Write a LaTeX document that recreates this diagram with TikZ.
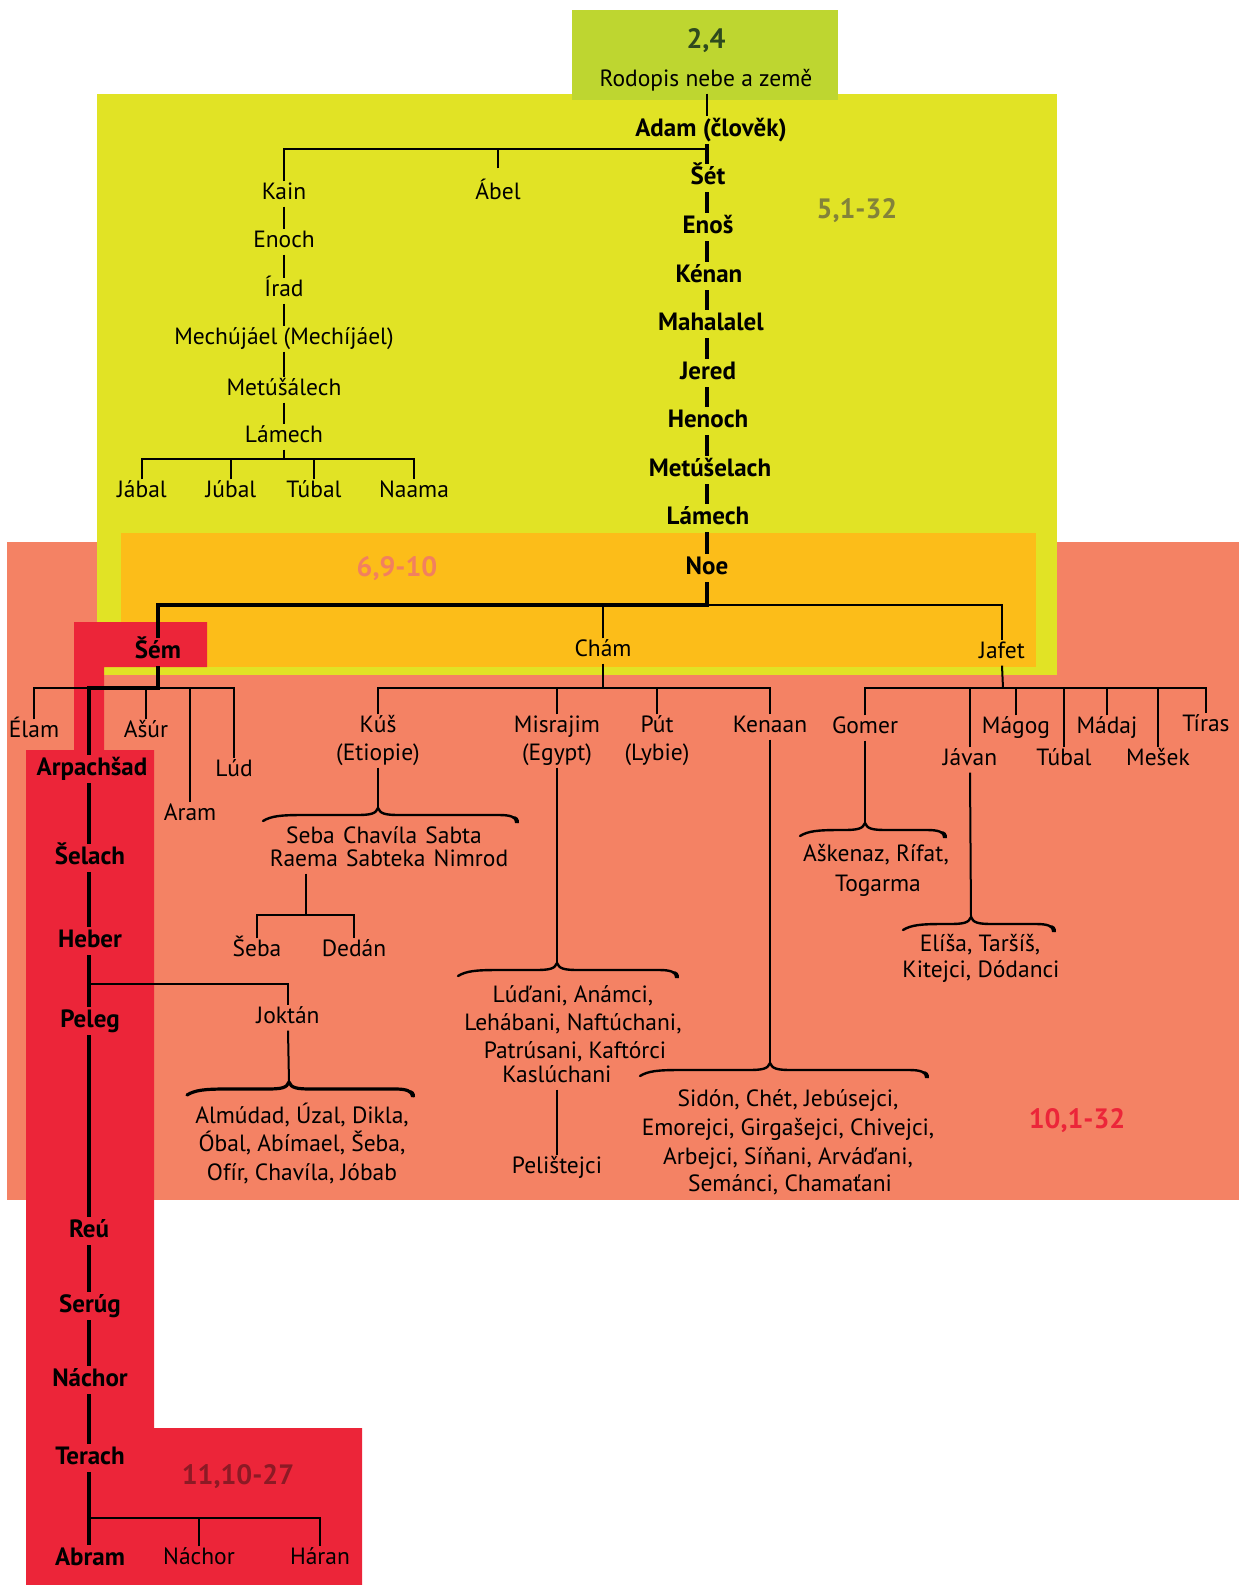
\documentclass[tikz,border=0pt]{standalone}
\usepackage{fontspec}
\setmainfont{PT Sans}
\definecolor{topgreen}{HTML}{BED630}
\definecolor{lime}{HTML}{E1E325}
\definecolor{amber}{HTML}{FCBD19}
\definecolor{salmon}{HTML}{F48264}
\definecolor{crimson}{HTML}{EC2539}
\definecolor{darkgreen}{HTML}{2E4A1E}
\definecolor{olive}{HTML}{83823A}
\definecolor{peach}{HTML}{F2805F}
\definecolor{redtext}{HTML}{EC2539}
\definecolor{wine}{HTML}{8C1A25}
% calligraphic curly brace: left end, tip, right end, level of the flat part, stroke width
\newcommand\calbrace[5]{%
  \draw[line width=#5, line cap=round, line join=round]
    (#1,#4+6) .. controls (#1+8,#4+1) and (#1+18,#4) .. (#1+40,#4)
    -- (#2-22,#4) .. controls (#2-8,#4) and (#2-2,#4-1) .. (#2,#4-7)
    .. controls (#2+2,#4-1) and (#2+8,#4) .. (#2+22,#4)
    -- (#3-18,#4) .. controls (#3-6,#4) and (#3-2,#4+2) .. (#3,#4+7);
  \fill (#3-5,#4+1) .. controls (#3+1,#4+1) and (#3+2,#4+4) .. (#3+2,#4+8)
    -- (#3-2,#4+8) .. controls (#3-2,#4+5) and (#3-3,#4+3) .. cycle;
}
\begin{document}
\begin{tikzpicture}[x=1pt,y=-1pt,
  nm/.style={font=\fontsize{23.5}{27}\selectfont, text height=16pt, text depth=5pt, inner xsep=0pt, inner ysep=2pt, yshift=-3pt},
  bnm/.style={nm, font=\fontsize{25}{29}\selectfont\bfseries, text height=18pt, inner ysep=2.5pt},
  verse/.style={font=\fontsize{28}{32}\selectfont\bfseries, inner sep=0pt},
  twig/.style={line width=2pt},
  bough/.style={line width=2.8pt},
  trunk/.style={line width=4pt},
]
\useasboundingbox (0,0) rectangle (1239,1585);

% coloured sections
\fill[salmon] (7,542) rectangle (1239,1200);
\fill[lime] (97,94) rectangle (1057,675);
\fill[amber] (121,533) rectangle (1036,667);
\fill[topgreen] (572,10) rectangle (838,100);
\fill[crimson] (74,622) -- (207,622) -- (207,667) -- (104,667) -- (104,750)
  -- (154,750) -- (154,1428) -- (362,1428) -- (362,1585) -- (26,1585)
  -- (26,750) -- (74,750) -- cycle;

% chapter references
\node[verse, text=darkgreen] (v24) at (706,41) {2,4};
\node[verse, text=olive] (v5) at (857,211) {5,1-32};
\node[verse, text=peach] (v6) at (397,569) {6,9-10};
\node[verse, text=redtext] (v10) at (1077,1121) {10,1-32};
\node[verse, text=wine] (v11) at (238,1477) {11,10-27};

\node[nm] (rodopis) at (706,78) {Rodopis nebe a země};

% line of Seth
\node[bnm] (adam) at (711,127) {Adam (člověk)};
\node[bnm] (set) at (708,175) {Šét};
\node[bnm] (enos) at (708,224) {Enoš};
\node[bnm] (kenan) at (709,273) {Kénan};
\node[bnm] (mahal) at (711,321) {Mahalalel};
\node[bnm] (jered) at (708,370) {Jered};
\node[bnm] (henoch) at (708,418) {Henoch};
\node[bnm] (metus) at (710,467) {Metúšelach};
\node[bnm] (lamech) at (708,515) {Lámech};
\node[bnm] (noe) at (707,565) {Noe};

% line of Cain
\node[nm] (kain) at (284,191) {Kain};
\node[nm] (abel) at (498,191) {Ábel};
\node[nm] (enoch) at (284,239) {Enoch};
\node[nm] (irad) at (284,288) {Írad};
\node[nm] (mechu) at (284,336) {Mechújáel (Mechíjáel)};
\node[nm] (metusa) at (284,387) {Metúšálech};
\node[nm] (lamk) at (284,434) {Lámech};
\node[nm] (jabal) at (142,489) {Jábal};
\node[nm] (jubal) at (231,489) {Júbal};
\node[nm] (tubal) at (314,489) {Túbal};
\node[nm] (naama) at (414,489) {Naama};

% sons of Noah
\node[bnm] (sem) at (158,649) {Šém};
\node[nm] (cham) at (603,648) {Chám};
\node[nm] (jafet) at (1002,650) {Jafet};

% sons of Shem
\node[nm] (elam) at (34,729) {Élam};
\node[nm] (asur) at (146,729) {Ašúr};
\node[nm] (aram) at (190,812) {Aram};
\node[nm] (lud) at (234,768) {Lúd};
\node[bnm] (arp) at (92,766) {Arpachšad};
\node[bnm] (selach) at (90,855) {Šelach};
\node[bnm] (heber) at (90,938) {Heber};
\node[bnm] (peleg) at (90,1018) {Peleg};
\node[nm] (joktan) at (288,1015) {Joktán};
\node[bnm] (reu) at (89,1228) {Reú};
\node[bnm] (serug) at (90,1303) {Serúg};
\node[bnm] (nachor) at (90,1377) {Náchor};
\node[bnm] (terach) at (90,1455) {Terach};
\node[bnm] (abram) at (90,1556) {Abram};
\node[nm] (nachorB) at (199,1556) {Náchor};
\node[nm] (haran) at (320,1556) {Háran};
\node[nm] (jok1) at (302,1115) {Almúdad, Úzal, Dikla,};
\node[nm] (jok2) at (302,1143) {Óbal, Abímael, Šeba,};
\node[nm] (jok3) at (302,1172) {Ofír, Chavíla, Jóbab};

% sons of Ham
\node[nm] (kus) at (378,724) {Kúš};
\node[nm] (kusB) at (378,752) {(Etiopie)};
\node[nm] (misr) at (557,724) {Misrajim};
\node[nm] (misrB) at (557,752) {(Egypt)};
\node[nm] (put) at (657,724) {Pút};
\node[nm] (putB) at (657,752) {(Lybie)};
\node[nm] (kenaan) at (770,724) {Kenaan};
\node[nm] (kus1) at (384,835) {Seba\hspace{0.35em}Chavíla\hspace{0.35em}Sabta};
\node[nm] (kus2) at (389,858) {Raema\hspace{0.35em}Sabteka\hspace{0.35em}Nimrod};
\node[nm] (seba) at (257,948) {Šeba};
\node[nm] (dedan) at (354,948) {Dedán};
\node[nm] (mis1) at (573,994) {Lúďani, Anámci,};
\node[nm] (mis2) at (573,1022) {Lehábani, Naftúchani,};
\node[nm] (mis3) at (575,1050) {Patrúsani, Kaftórci};
\node[nm] (mis4) at (557,1074) {Kaslúchani};
\node[nm] (pelis) at (557,1165) {Pelištejci};
\node[nm] (ken1) at (788,1098) {Sidón, Chét, Jebúsejci,};
\node[nm] (ken2) at (788,1127) {Emorejci, Girgašejci, Chivejci,};
\node[nm] (ken3) at (788,1156) {Arbejci, Síňani, Arváďani,};
\node[nm] (ken4) at (790,1183) {Semánci, Chamaťani};

% sons of Japheth
\node[nm] (gomer) at (865,725) {Gomer};
\node[nm] (magog) at (1016,725) {Mágog};
\node[nm] (madaj) at (1107,725) {Mádaj};
\node[nm] (tiras) at (1206,723) {Tíras};
\node[nm] (javan) at (970,757) {Jávan};
\node[nm] (tubalJ) at (1064,757) {Túbal};
\node[nm] (mesek) at (1158,757) {Mešek};
\node[nm] (gom1) at (876,853) {Aškenaz, Rífat,};
\node[nm] (gom2) at (878,883) {Togarma};
\node[nm] (jav1) at (980,943) {Elíša, Taršíš,};
\node[nm] (jav2) at (981,969) {Kitejci, Dódanci};

% junction points
\coordinate (sx) at (707,0);
\coordinate (adambar) at (707,149);
\coordinate (lbar) at (284,459);
\coordinate (nbar) at (707,605);
\coordinate (sbar) at (158,688);
\coordinate (lx) at (89,688);
\coordinate (cbar) at (603,688);
\coordinate (jbar) at (1003,688);
\coordinate (hbar) at (89,984);
\coordinate (sdbar) at (306,915);
\coordinate (tbar) at (89,1518);
\coordinate (kusTip) at (378,808);
\coordinate (misTip) at (557,963);
\coordinate (kenTip) at (770,1063);
\coordinate (jokTip) at (289,1082);
\coordinate (gomTip) at (865,823);
\coordinate (javTip) at (971,917);

% Adam to Noah
\draw[twig] (rodopis.south -| sx) -- (adam.north -| sx);
\draw[trunk] (adam.south -| sx) -- (set.north -| sx);
\draw[trunk] (set.south -| sx) -- (enos.north -| sx);
\draw[trunk] (enos.south -| sx) -- (kenan.north -| sx);
\draw[trunk] (kenan.south -| sx) -- (mahal.north -| sx);
\draw[trunk] (mahal.south -| sx) -- (jered.north -| sx);
\draw[trunk] (jered.south -| sx) -- (henoch.north -| sx);
\draw[trunk] (henoch.south -| sx) -- (metus.north -| sx);
\draw[trunk] (metus.south -| sx) -- (lamech.north -| sx);
\draw[trunk] (lamech.south -| sx) -- (noe.north -| sx);
\draw[bough] (kain.north) |- (adambar);
\draw[twig] ([yshift=13pt]abel.north) -- (abel.north |- adambar);

% Cain's line
\draw[twig] (kain.south) -- (enoch.north);
\draw[twig] (enoch.south) -- (irad.north);
\draw[twig] (irad.south) -- (mechu.north);
\draw[twig] (mechu.south) -- (metusa.north);
\draw[twig] (metusa.south) -- (lamk.north);
\draw[twig] (lamk.south) -- (lbar);
\draw[twig] (jabal.north) |- (naama.north |- lbar) -- (naama.north);
\draw[twig] (jubal.north) -- (jubal.north |- lbar);
\draw[twig] (tubal.north) -- (tubal.north |- lbar);

% Noah's sons
\draw[trunk] (noe.south -| sx) -- (nbar) -| (sem.north);
\draw[twig] (nbar) -| (jafet.north);
\draw[twig] (cham.north) -- (cham.north |- nbar);

% Shem
\draw[trunk] (sem.south) -- (sbar) -- (lx) -- (arp.north -| lx);
\draw[twig] (elam.north) |- (lud.north |- sbar) -- (lud.north);
\draw[twig] (asur.north) -- (asur.north |- sbar);
\draw[twig] (aram.north) -- (aram.north |- sbar);
\draw[trunk] (arp.south -| lx) -- (selach.north -| lx);
\draw[trunk] (selach.south -| lx) -- (heber.north -| lx);
\draw[trunk] (heber.south -| lx) -- (peleg.north -| lx);
\draw[twig] (hbar) -| (joktan.north);
\draw[trunk] (peleg.south -| lx) -- (reu.north -| lx);
\draw[trunk] (reu.south -| lx) -- (serug.north -| lx);
\draw[trunk] (serug.south -| lx) -- (nachor.north -| lx);
\draw[trunk] (nachor.south -| lx) -- (terach.north -| lx);
\draw[trunk] (terach.south -| lx) -- (abram.north -| lx);
\draw[twig] (tbar) -| (haran.north);
\draw[twig] (nachorB.north) -- (nachorB.north |- tbar);
\draw[twig] (joktan.south) -- (jokTip);
\calbrace{187}{289}{413}{1089}{3.2pt}

% Ham
\draw[twig] (cham.south) -- (cbar);
\draw[twig] (kus.north) |- (kenaan.north |- cbar) -- (kenaan.north);
\draw[twig] (misr.north) -- (misr.north |- cbar);
\draw[twig] (put.north) -- (put.north |- cbar);
\draw[twig] (kusB.south) -- (kusTip);
\calbrace{263}{378}{517}{815}{2.4pt}
\draw[twig] (kus2.south -| sdbar) -- (sdbar);
\draw[twig] (seba.north) |- (dedan.north |- sdbar) -- (dedan.north);
\draw[twig] (misrB.south) -- (misTip);
\calbrace{458}{557}{677}{970}{2.4pt}
\draw[twig] (mis4.south) -- (pelis.north);
\draw[twig] (kenaan.south) -- (kenTip);
\calbrace{640}{770}{927}{1070}{2.4pt}

% Japheth
\draw[twig] (jafet.south) -- (jbar);
\draw[twig] (gomer.north) |- (tiras.north |- jbar) -- (tiras.north);
\draw[twig] (javan.north) -- (javan.north |- jbar);
\draw[twig] (magog.north) -- (magog.north |- jbar);
\draw[twig] (tubalJ.north) -- (tubalJ.north |- jbar);
\draw[twig] (madaj.north) -- (madaj.north |- jbar);
\draw[twig] (mesek.north) -- (mesek.north |- jbar);
\draw[twig] (gomer.south) -- (gomTip);
\calbrace{800}{865}{945}{830}{2.4pt}
\draw[twig] (javan.south) -- (javTip);
\calbrace{903}{971}{1054}{924}{2.4pt}
\end{tikzpicture}
\end{document}
